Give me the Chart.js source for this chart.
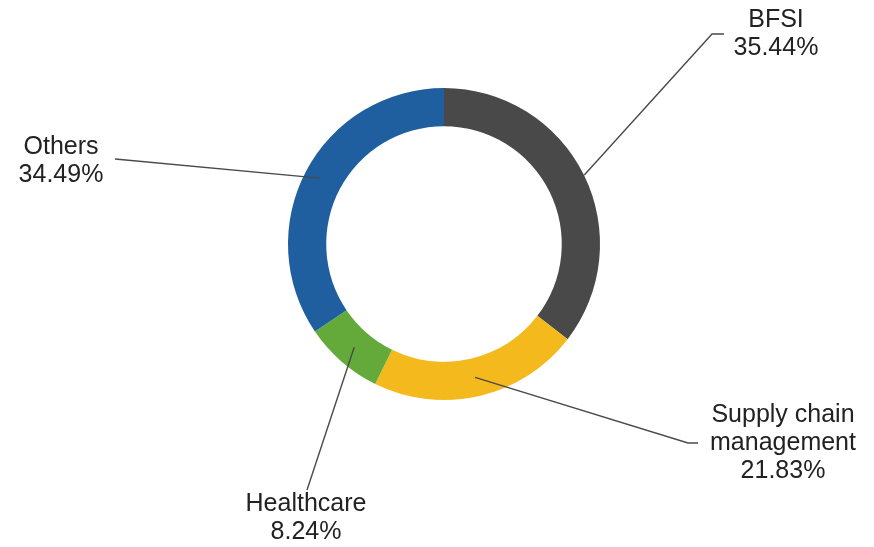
<!DOCTYPE html>
<html>
<head>
<meta charset="utf-8">
<script src="https://cdn.jsdelivr.net/npm/chart.js@4"></script>
<style>
  html, body { margin: 0; padding: 0; background: #fff; }
  #wrap { width: 874px; height: 547px; }
</style>
</head>
<body>
<div id="wrap"><canvas id="myChart" width="874" height="547"></canvas></div>
<script>
var categorias = ['BFSI', 'Supply chain management', 'Healthcare', 'Others'];
var rotulos = [['BFSI'], ['Supply chain', 'management'], ['Healthcare'], ['Others']];
var percentuais = [35.44, 21.83, 8.24, 34.49];
var cores = ['#494949', '#F3B91D', '#63AA3B', '#1F5E9F'];

// where each callout sits (text centre, line elbow), and how far out on the ring its line starts
var callouts = [
  { r: 1.01, elbow: [712, 34], end: [724, 34], tx: 776, ty: 20 },
  { r: 0.5,  elbow: [688, 443], end: [698, 443], tx: 783, ty: 415 },
  { r: 0.5,  elbow: null, end: [307, 490], tx: 306, ty: 504 },
  { r: 0.6,  elbow: null, end: [115, 159], tx: 61, ty: 147 }
];

var rotulosPlugin = {
  id: 'rotulos',
  afterDatasetsDraw: function(chart) {
    var ctx = chart.ctx;
    var meta = chart.getDatasetMeta(0);
    ctx.save();
    meta.data.forEach(function(arc, i) {
      var p = arc.getProps(['x', 'y', 'startAngle', 'endAngle', 'innerRadius', 'outerRadius'], true);
      var ang = (p.startAngle + p.endAngle) / 2;
      var c = callouts[i];
      var rad = p.innerRadius + (p.outerRadius - p.innerRadius) * c.r;
      var ax = p.x + Math.cos(ang) * rad;
      var ay = p.y + Math.sin(ang) * rad;
      ctx.strokeStyle = '#4a4a4a';
      ctx.lineWidth = 1.4;
      ctx.beginPath();
      ctx.moveTo(ax, ay);
      if (c.elbow) ctx.lineTo(c.elbow[0], c.elbow[1]);
      ctx.lineTo(c.end[0], c.end[1]);
      ctx.stroke();

      var linhas = rotulos[i].concat([percentuais[i].toFixed(2) + '%']);
      ctx.fillStyle = '#222';
      ctx.font = '25px "Liberation Sans", Arial, sans-serif';
      ctx.textAlign = 'center';
      ctx.textBaseline = 'middle';
      linhas.forEach(function(t, k) {
        ctx.fillText(t, c.tx, c.ty + k * 28);
      });
    });
    ctx.restore();
  }
};

var ctx = document.getElementById('myChart').getContext('2d');
var chart = new Chart(ctx, {
  type: 'doughnut',
  data: {
    labels: categorias,
    datasets: [{
      data: percentuais,
      backgroundColor: cores,
      borderWidth: 0
    }]
  },
  options: {
    responsive: false,
    animation: false,
    cutout: '75.5%',
    layout: { padding: { left: 288, right: 274, top: 88, bottom: 147 } },
    plugins: {
      legend: { display: false },
      tooltip: { enabled: false }
    }
  },
  plugins: [rotulosPlugin]
});
</script>
</body>
</html>
